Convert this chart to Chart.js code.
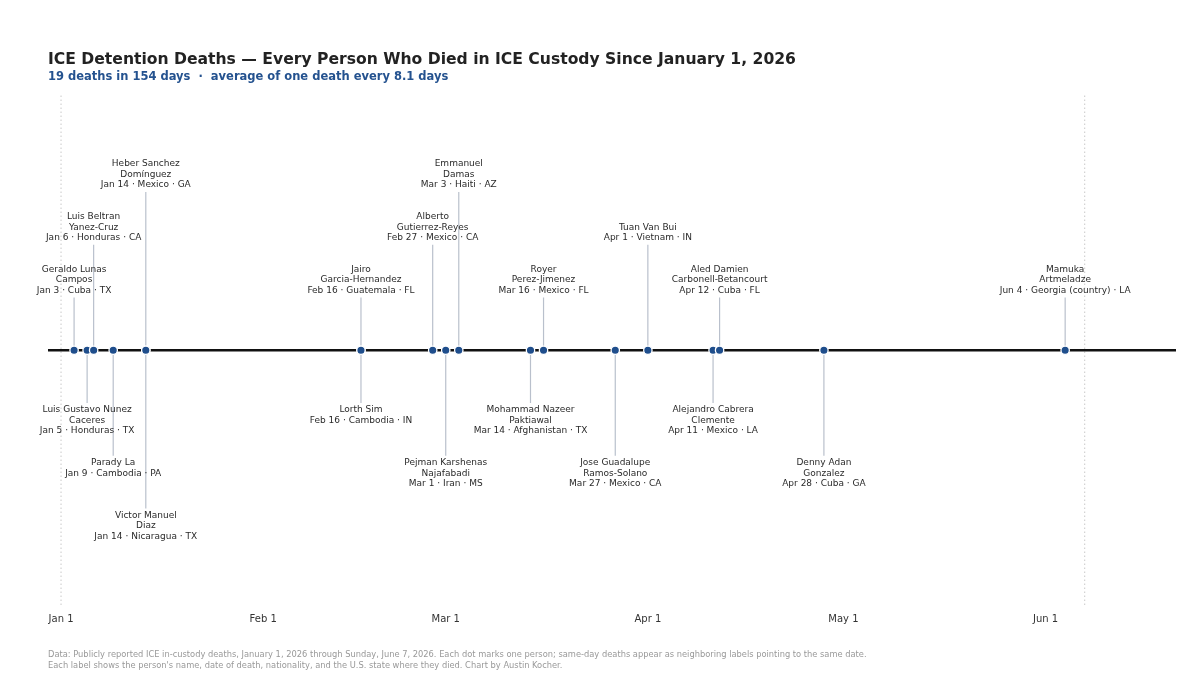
<!DOCTYPE html>
<html lang="en">
<head>
    <meta charset="UTF-8">
    <title>ICE Detention Deaths</title>
    <script src="https://cdn.jsdelivr.net/npm/chart.js"></script>
    <style>
        html, body { margin: 0; padding: 0; background: white; }
        #wrap { width: 1200px; height: 675px; }
    </style>
</head>
<body>
    <div id="wrap">
        <canvas id="timelineChart"></canvas>
    </div>

    <script>
        // One entry per person, in date order
        const names = [
            'Geraldo Lunas Campos', 'Luis Gustavo Nunez Caceres', 'Luis Beltran Yanez-Cruz',
            'Parady La', 'Heber Sanchez Domínguez', 'Victor Manuel Diaz',
            'Jairo Garcia-Hernandez', 'Lorth Sim', 'Alberto Gutierrez-Reyes',
            'Pejman Karshenas Najafabadi', 'Emmanuel Damas', 'Mohammad Nazeer Paktiawal',
            'Royer Perez-Jimenez', 'Jose Guadalupe Ramos-Solano', 'Tuan Van Bui',
            'Alejandro Cabrera Clemente', 'Aled Damien Carbonell-Betancourt', 'Denny Adan Gonzalez',
            'Mamuka Artmeladze'
        ];
        const deathDates = [
            '2026-01-03', '2026-01-05', '2026-01-06', '2026-01-09', '2026-01-14', '2026-01-14',
            '2026-02-16', '2026-02-16', '2026-02-27', '2026-03-01', '2026-03-03', '2026-03-14',
            '2026-03-16', '2026-03-27', '2026-04-01', '2026-04-11', '2026-04-12', '2026-04-28',
            '2026-06-04'
        ];
        const countries = [
            'Cuba', 'Honduras', 'Honduras', 'Cambodia', 'Mexico', 'Nicaragua',
            'Guatemala', 'Cambodia', 'Mexico', 'Iran', 'Haiti', 'Afghanistan',
            'Mexico', 'Mexico', 'Vietnam', 'Mexico', 'Cuba', 'Cuba',
            'Georgia (country)'
        ];
        const states = [
            'TX', 'TX', 'CA', 'PA', 'GA', 'TX',
            'FL', 'IN', 'CA', 'MS', 'AZ', 'TX',
            'FL', 'CA', 'IN', 'LA', 'FL', 'GA',
            'LA'
        ];

        const startDate = '2026-01-01';
        const endDate = '2026-06-07';
        const monthTickDays = [0, 31, 59, 90, 120, 151];
        const monthTickLabels = ['Jan 1', 'Feb 1', 'Mar 1', 'Apr 1', 'May 1', 'Jun 1'];
        const monthNames = ['Jan', 'Feb', 'Mar', 'Apr', 'May', 'Jun', 'Jul', 'Aug', 'Sep', 'Oct', 'Nov', 'Dec'];

        const DAY = 86400000;
        const toDay = s => Math.round((Date.parse(s) - Date.parse(startDate)) / DAY);
        const days = deathDates.map(toDay);
        const endDay = toDay(endDate);

        // Alternate above / below, then push a label up a level if it is too close to its neighbour
        const MIN_GAP_DAYS = 21;
        const lastOnLevel = { up: [], down: [] };
        const levels = days.map((d, i) => {
            const side = i % 2 === 0 ? 'up' : 'down';
            let lvl = 0;
            while (lastOnLevel[side][lvl] !== undefined && d - lastOnLevel[side][lvl] < MIN_GAP_DAYS) lvl++;
            lastOnLevel[side][lvl] = d;
            return side === 'up' ? lvl + 1 : -(lvl + 1);
        });

        function labelLines(i) {
            const name = names[i];
            const lines = [];
            if (name.length > 12) {
                const cut = name.lastIndexOf(' ');
                lines.push(name.slice(0, cut), name.slice(cut + 1));
            } else {
                lines.push(name);
            }
            const dt = deathDates[i].split('-');
            lines.push(monthNames[+dt[1] - 1] + ' ' + (+dt[2]) + ' \u00b7 ' + countries[i] + ' \u00b7 ' + states[i]);
            return lines;
        }

        // stems: one segment per person, broken with nulls
        const stemPoints = [];
        days.forEach((d, i) => {
            stemPoints.push({ x: d, y: 0 }, { x: d, y: levels[i] }, { x: d, y: null });
        });

        const FONT = "'DejaVu Sans', sans-serif";

        const timelinePlugin = {
            id: 'timelineExtras',
            beforeDatasetsDraw(chart) {
                const { ctx, chartArea, scales } = chart;
                ctx.save();
                ctx.strokeStyle = '#c8c8c8';
                ctx.lineWidth = 1;
                ctx.setLineDash([1.5, 2.5]);
                [0, endDay].forEach(d => {
                    const x = scales.x.getPixelForValue(d);
                    ctx.beginPath();
                    ctx.moveTo(x, chartArea.top);
                    ctx.lineTo(x, chartArea.bottom);
                    ctx.stroke();
                });
                ctx.restore();
            },
            afterDatasetsDraw(chart) {
                const { ctx, scales } = chart;
                const lineH = 10.5;
                ctx.save();
                ctx.font = '9px ' + FONT;
                ctx.fillStyle = '#2a2a2a';
                ctx.textAlign = 'center';
                ctx.textBaseline = 'middle';
                days.forEach((d, i) => {
                    const x = scales.x.getPixelForValue(d);
                    const yEnd = scales.y.getPixelForValue(levels[i]);
                    const lines = labelLines(i);
                    lines.forEach((t, k) => {
                        let y;
                        if (levels[i] > 0) y = yEnd - 7 - (lines.length - 1 - k) * lineH;
                        else y = yEnd + 7 + k * lineH;
                        ctx.fillText(t, x, y);
                    });
                });
                ctx.restore();
            },
            afterDraw(chart) {
                const { ctx } = chart;
                ctx.save();
                ctx.font = '8.3px ' + FONT;
                ctx.fillStyle = '#999999';
                ctx.textAlign = 'left';
                ctx.textBaseline = 'middle';
                ctx.fillText('Data: Publicly reported ICE in-custody deaths, January 1, 2026 through Sunday, June 7, 2026. Each dot marks one person; same-day deaths appear as neighboring labels pointing to the same date.', 48, 655);
                ctx.fillText("Each label shows the person's name, date of death, nationality, and the U.S. state where they died. Chart by Austin Kocher.", 48, 666);
                ctx.restore();
            }
        };

        const ctx = document.getElementById('timelineChart').getContext('2d');
        new Chart(ctx, {
            type: 'scatter',
            data: {
                datasets: [
                    {
                        label: 'Deaths',
                        data: days.map(d => ({ x: d, y: 0 })),
                        pointRadius: 4.2,
                        pointBackgroundColor: '#1f4e8c',
                        pointBorderColor: '#ffffff',
                        pointBorderWidth: 1.3,
                        order: 0
                    },
                    {
                        label: 'Stems',
                        data: stemPoints,
                        showLine: true,
                        spanGaps: false,
                        borderColor: '#b9c0cc',
                        borderWidth: 1.2,
                        pointRadius: 0,
                        order: 1
                    },
                    {
                        label: 'Baseline',
                        data: [{ x: -2, y: 0 }, { x: 171, y: 0 }],
                        showLine: true,
                        borderColor: '#111111',
                        borderWidth: 2.5,
                        pointRadius: 0,
                        order: 2
                    }
                ]
            },
            options: {
                responsive: true,
                maintainAspectRatio: false,
                animation: false,
                layout: { padding: { left: 48, right: 24, top: 0, bottom: 42 } },
                plugins: {
                    legend: { display: false },
                    tooltip: { enabled: false },
                    title: {
                        display: true,
                        align: 'start',
                        text: 'ICE Detention Deaths \u2014 Every Person Who Died in ICE Custody Since January 1, 2026',
                        color: '#222222',
                        font: { family: FONT, size: 15.6, weight: 'bold' },
                        padding: { top: 51, bottom: 0 }
                    },
                    subtitle: {
                        display: true,
                        align: 'start',
                        text: '19 deaths in 154 days  \u00b7  average of one death every 8.1 days',
                        color: '#24528f',
                        font: { family: FONT, size: 11.5, weight: 'bold' },
                        padding: { top: 0, bottom: 12 }
                    }
                },
                scales: {
                    x: {
                        type: 'linear',
                        min: -2,
                        max: 171,
                        grid: { display: false, drawTicks: false },
                        border: { display: false },
                        afterBuildTicks: scale => {
                            scale.ticks = monthTickDays.map(v => ({ value: v }));
                        },
                        ticks: {
                            padding: 8,
                            color: '#333333',
                            font: { family: FONT, size: 10 },
                            callback: v => monthTickLabels[monthTickDays.indexOf(v)]
                        }
                    },
                    y: {
                        display: false,
                        min: -4.83,
                        max: 4.83
                    }
                }
            },
            plugins: [timelinePlugin]
        });
    </script>
</body>
</html>
